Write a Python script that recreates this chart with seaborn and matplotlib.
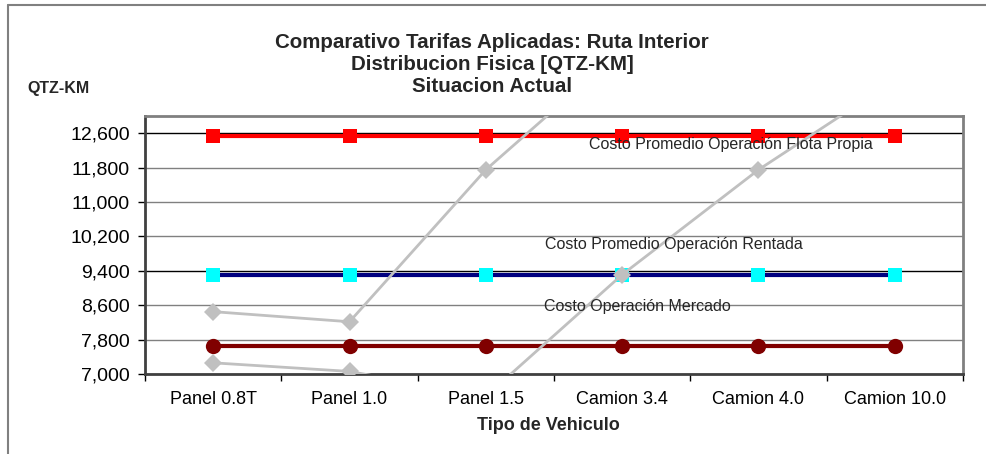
import matplotlib
matplotlib.use("Agg")
import matplotlib.pyplot as plt
import seaborn as sns
import numpy as np
import pandas as pd
from matplotlib.lines import Line2D

sns.set_theme(style="white")
plt.rcParams['font.family'] = ['Liberation Sans', 'DejaVu Sans']

categories = ["Panel 0.8T", "Panel 1.0", "Panel 1.5", "Camion 3.4", "Camion 4.0", "Camion 10.0"]
flota_propia = [12530, 12530, 12530, 12530, 12530, 12530]
rentada = [9310, 9310, 9310, 9310, 9310, 9310]
mercado = [7660, 7660, 7660, 7660, 7660, 7660]
tarifa_a = [8450, 8215, 11750, 14540, 15500, 16500]
tarifa_b = [7260, 7060, 6480, 9310, 11750, 13830]
yticks = [7000, 7800, 8600, 9400, 10200, 11000, 11800, 12600]
ytick_labels = ["7,000", "7,800", "8,600", "9,400", "10,200", "11,000", "11,800", "12,600"]
ref_lines = [12600, 9400]

title_lines = ["Comparativo Tarifas Aplicadas: Ruta Interior",
               "Distribucion Fisica [QTZ-KM]",
               "Situacion Actual"]

fig = plt.figure(figsize=(9.86, 4.54), dpi=100)
ax = fig.add_axes([145/986, 1-374/454, (963-145)/986, (374-116)/454])

x = np.arange(len(categories))
df = pd.DataFrame({"x": x, "flota": flota_propia, "rentada": rentada,
                   "mercado": mercado, "a": tarifa_a, "b": tarifa_b})

# gridlines
for yv in yticks:
    ax.axhline(yv, color="black" if yv in ref_lines else "#808080", lw=1.0, zorder=1)

sns.lineplot(data=df, x="x", y="flota", ax=ax, color="#ff0000", lw=3, marker="s",
             markersize=10.5, markeredgewidth=0, markerfacecolor="#ff0000", zorder=3)
sns.lineplot(data=df, x="x", y="rentada", ax=ax, color="#000080", lw=3, marker="s",
             markersize=10.5, markeredgewidth=0, markerfacecolor="#00ffff", zorder=3)
sns.lineplot(data=df, x="x", y="mercado", ax=ax, color="#800000", lw=3, marker="o",
             markersize=11, markeredgewidth=0, markerfacecolor="#800000", zorder=3)
sns.lineplot(data=df, x="x", y="a", ax=ax, color="#c0c0c0", lw=2, marker="D",
             markersize=9.5, markeredgewidth=0, markerfacecolor="#c0c0c0", zorder=4)
sns.lineplot(data=df, x="x", y="b", ax=ax, color="#c0c0c0", lw=2, marker="D",
             markersize=9.5, markeredgewidth=0, markerfacecolor="#c0c0c0", zorder=4)

ax.set_xlim(-0.5, len(categories) - 0.5)
ax.set_ylim(7000, 13000)
ax.set_yticks(yticks)
ax.set_yticklabels(ytick_labels, fontsize=14, color="black")
ax.set_xticks(x)
ax.set_xticklabels(categories, fontsize=13, color="black")
ax.set_xticks(np.arange(len(categories) + 1) - 0.5, minor=True)
ax.tick_params(axis="x", which="major", length=0, pad=12)
ax.tick_params(axis="x", which="minor", length=5, width=1, color="black", direction="out", bottom=True)
ax.tick_params(axis="y", which="major", length=5, width=1, color="black", direction="out", left=True, pad=6)
ax.set_xlabel("")
ax.set_ylabel("")

for side in ["top", "right"]:
    ax.spines[side].set_color("#808080")
    ax.spines[side].set_linewidth(2)
for side in ["left", "bottom"]:
    ax.spines[side].set_color("#404040")
    ax.spines[side].set_linewidth(2)

# annotations
ax.text(3.8, 12330, "Costo Promedio Operación Flota Propia", fontsize=11.5, ha="center", va="center", zorder=5)
ax.text(3.38, 10020, "Costo Promedio Operación Rentada", fontsize=11.5, ha="center", va="center", zorder=5)
ax.text(3.11, 8560, "Costo Operación Mercado", fontsize=11.5, ha="center", va="center", zorder=5)

# titles
for i, t in enumerate(title_lines):
    fig.text(492/986, 1 - (42 + 22.5*i)/454, t, fontsize=14.8, fontweight="bold", ha="center", va="center")
fig.text(58/986, 1 - 88/454, "QTZ-KM", fontsize=11.5, fontweight="bold", ha="center", va="center")
fig.text(548/986, 1 - 426/454, "Tipo de Vehiculo", fontsize=13, fontweight="bold", ha="center", va="center")

# outer chart border
fig.add_artist(Line2D([8/986, 1], [1 - 5/454, 1 - 5/454], color="#808080", lw=1.5, transform=fig.transFigure))
fig.add_artist(Line2D([8/986, 8/986], [0, 1 - 5/454], color="#808080", lw=1.5, transform=fig.transFigure))

fig.savefig("out.png", dpi=100)
